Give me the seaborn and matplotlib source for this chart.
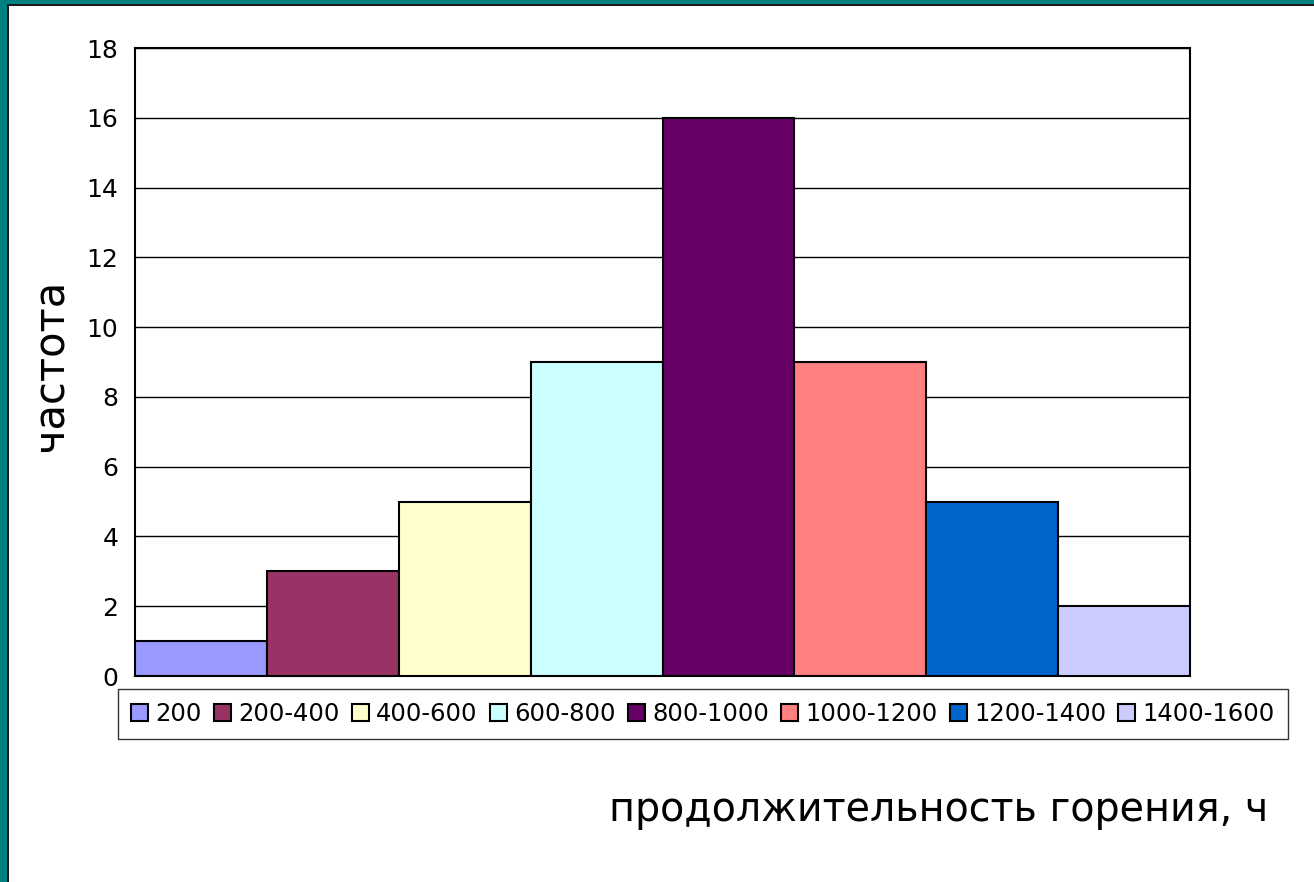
import matplotlib
matplotlib.use("Agg")
import matplotlib.pyplot as plt
import seaborn as sns
import pandas as pd
from matplotlib.patches import Rectangle

categories = ["200", "200-400", "400-600", "600-800", "800-1000",
              "1000-1200", "1200-1400", "1400-1600"]
frequencies = [1, 3, 5, 9, 16, 9, 5, 2]
colors = ["#9999FF", "#993366", "#FFFFCC", "#CCFFFF", "#660066",
          "#FF8080", "#0066CC", "#CCCCFF"]
y_ticks = [0, 2, 4, 6, 8, 10, 12, 14, 16, 18]
y_label = "частота"
x_label = "продолжительность горения, ч"

sns.set_theme(style="white")
plt.rcParams["font.family"] = ["DejaVu Sans"]
plt.rcParams["text.color"] = "black"
plt.rcParams["ytick.color"] = "black"
plt.rcParams["xtick.color"] = "black"

df = pd.DataFrame({"cat": categories, "freq": frequencies})

fig = plt.figure(figsize=(13.14, 8.82), dpi=100)
fig.patch.set_facecolor("white")
ax = fig.add_axes([135/1314, 1-676/882, (1190-135)/1314, (676-48)/882])

sns.barplot(data=df, x="cat", y="freq", hue="cat", palette=colors,
            order=categories, hue_order=categories, width=1.0, saturation=1,
            edgecolor="black", linewidth=1.5, dodge=False, legend=True, ax=ax,
            zorder=3)

ax.set_xlim(-0.5, len(categories) - 0.5)
ax.set_ylim(0, 18)
ax.set_yticks(y_ticks)
ax.set_yticklabels([str(t) for t in y_ticks], fontsize=18, color="black")
ax.set_xticks([-0.5, len(categories) - 0.5])
ax.set_xticklabels(["", ""])
ax.tick_params(axis="y", direction="out", length=8, width=1.2, color="black", pad=4)
ax.tick_params(axis="x", direction="out", length=8, width=1.2, color="black")
ax.grid(axis="y", color="black", linewidth=1.0, zorder=0)
ax.set_axisbelow(True)
for s in ax.spines.values():
    s.set_visible(True)
    s.set_color("black")
    s.set_linewidth(1.5)
ax.set_xlabel("")
ax.set_ylabel("")

handles, labels = ax.get_legend_handles_labels()
ax.get_legend().remove()
leg = fig.legend(handles, labels, loc="center",
                 bbox_to_anchor=((119+1287)/2/1314, 1-714/882),
                 ncol=8, fontsize=17.5, frameon=True, fancybox=False,
                 edgecolor="black", handlelength=0.7, handleheight=0.7,
                 handletextpad=0.3, columnspacing=0.5, borderpad=0.55)
leg.get_frame().set_linewidth(1.0)
for t in leg.get_texts():
    t.set_color("black")

fig.text(50/1314, 1-365/882, y_label, rotation=90, ha="center", va="center",
         fontsize=30, color="black")
fig.text(1268/1314, 1-810/882, x_label, ha="right", va="center", fontsize=28.5,
         color="black")

# teal border
fig.patches.append(Rectangle((0, 0), 7/1314, 1, transform=fig.transFigure,
                             facecolor="#008080", edgecolor="none", zorder=10))
fig.patches.append(Rectangle((7/1314, 0), 2/1314, 1-4/882, transform=fig.transFigure,
                             facecolor="#1a1a1a", edgecolor="none", zorder=10))
fig.patches.append(Rectangle((0, 1-4/882), 1, 4/882, transform=fig.transFigure,
                             facecolor="#008080", edgecolor="none", zorder=10))
fig.patches.append(Rectangle((7/1314, 1-6/882), 1, 2/882, transform=fig.transFigure,
                             facecolor="#1a1a1a", edgecolor="none", zorder=10))

fig.savefig("out.png", dpi=100)
